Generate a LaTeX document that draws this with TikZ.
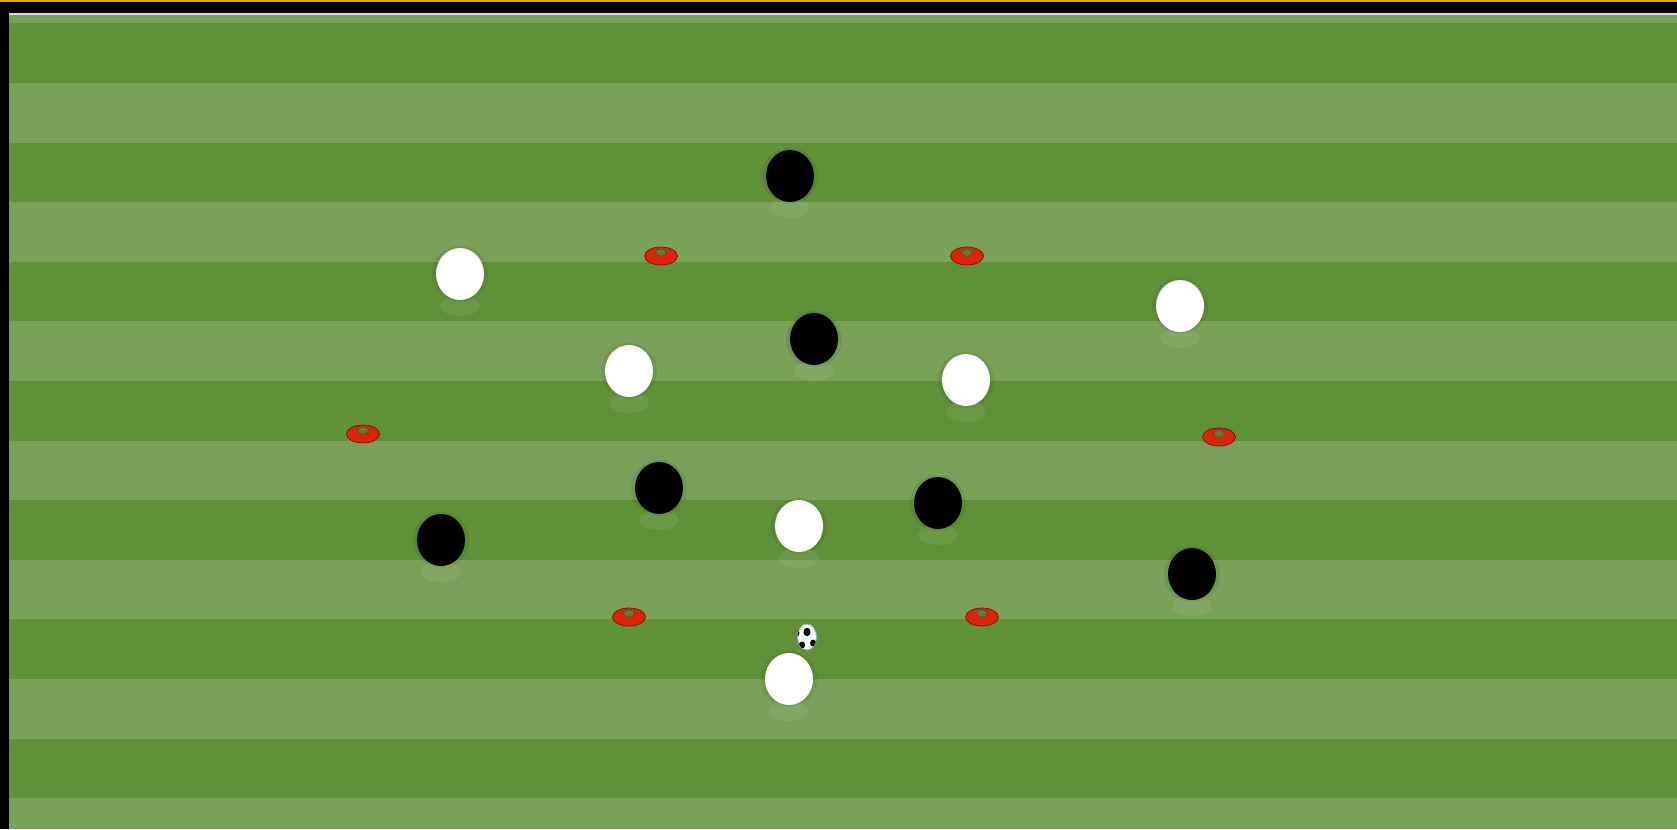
\documentclass[tikz,border=0pt]{standalone}
\usepackage{xcolor}
\usepackage{tikz}
\usetikzlibrary{shapes.geometric}
\definecolor{pitchdark}{RGB}{95,145,56}
\definecolor{pitchlight}{RGB}{121,161,87}
\definecolor{conered}{RGB}{222,34,12}
\definecolor{coneolive}{RGB}{104,120,36}
\definecolor{topline}{RGB}{236,160,0}
\tikzset{
  stripe/.style={fill=pitchdark},
  halo/.style={fill=black, opacity=0.07},
  mirror/.style={fill=white, opacity=0.08},
  homeplayer/.style={ellipse, fill=white, minimum width=0.96cm,
                     minimum height=1.04cm, inner sep=0pt},
  awayplayer/.style={homeplayer, fill=black},
  cone/.style={ellipse, draw=conered!55!black, fill=conered, line width=0.4pt,
               minimum width=0.66cm, minimum height=0.36cm, inner sep=0pt},
  conetop/.style={ellipse, draw=black!70, fill=coneolive, line width=0.4pt,
                  minimum width=0.22cm, minimum height=0.15cm, inner sep=0pt},
  ballbody/.style={ellipse, draw=black!35, fill=white, line width=0.5pt,
                   minimum width=0.38cm, minimum height=0.52cm, inner sep=0pt},
  patch/.style={fill=black}
}
\begin{document}
\begin{tikzpicture}[x=0.02cm, y=-0.02cm]

  % frame and pitch
  \useasboundingbox (0,0) rectangle (1677,829);
  \fill[black] (0,0) rectangle (1677,829);
  \fill[topline] (0,0) rectangle (1677,1.6);
  \fill[black!15] (9,13) rectangle (1677,15);
  \fill[pitchlight] (9,15) rectangle (1677,829);
  \foreach \y in {23.4,142.6,261.8,381,500.2,619.4,738.6}
    \fill[stripe] (9,\y) rectangle (1677,\y+59.6);

  % cones
  \foreach \n/\x/\y in {1/661/256, 2/967/256, 3/363/434,
                        4/1219/437, 5/629/617, 6/982/617} {
    \node[cone] (c\n) at (\x,\y) {};
    \node[conetop] (t\n) at ([yshift=0.07cm]c\n.center) {};
  }

  % away team
  \foreach \n/\x/\y in {1/790/176, 2/814/339, 3/659/488,
                        4/441/540, 5/938/503, 6/1192/574} {
    \fill[halo] (\x,\y) circle (28);
    \fill[mirror] (\x,\y+32) ellipse (20 and 10);
    \node[awayplayer] (b\n) at (\x,\y) {};
  }

  % home team
  \foreach \n/\x/\y in {1/460/274, 2/629/371, 3/966/380,
                        4/1180/306, 5/799/526, 6/789/679} {
    \fill[halo] (\x,\y) circle (28);
    \fill[mirror] (\x,\y+32) ellipse (20 and 10);
    \node[homeplayer] (w\n) at (\x,\y) {};
  }

  % ball
  \node[ballbody] (ball) at (807,637) {};
  \begin{scope}
    \clip (ball.center) ellipse (9.5 and 13);
    \fill[patch] (807,632) ellipse (3.6 and 4.2);
    \fill[patch] (802,645) ellipse (3.2 and 3.4);
    \fill[patch] (813,643) ellipse (3 and 3.4);
    \fill[patch] (797,633) ellipse (2.4 and 3.4);
    \fill[patch] (816,627) ellipse (2.4 and 3);
  \end{scope}

\end{tikzpicture}
\end{document}
